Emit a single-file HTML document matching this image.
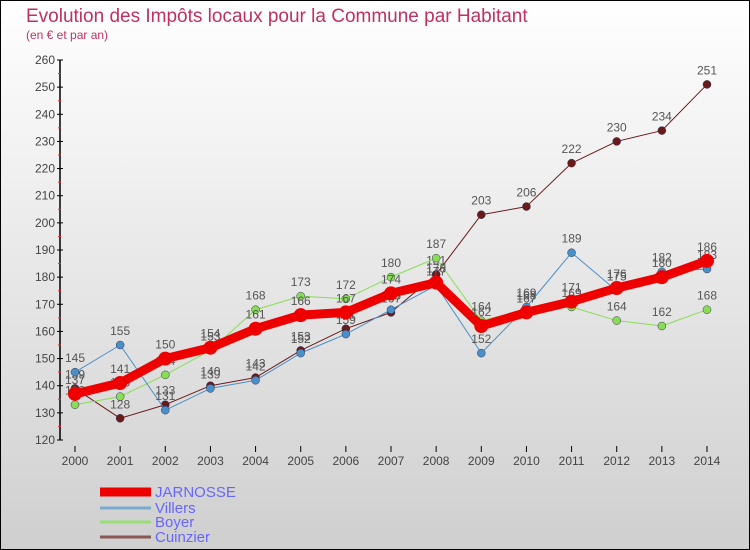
<!DOCTYPE html>
<html><head><meta charset="utf-8"><style>
body{margin:0;}
#wrap{width:750px;height:550px;position:relative;overflow:hidden;}
svg{display:block;font-family:"Liberation Sans",sans-serif;}
</style></head><body>
<div id="wrap">
<svg id="chart" width="750" height="550" viewBox="0 0 750 550">
<defs><linearGradient id="bg" x1="0" y1="0" x2="0" y2="1"><stop offset="0" stop-color="#ffffff"/><stop offset="1" stop-color="#cfcfcf"/></linearGradient></defs>
<rect x="0.5" y="0.5" width="749" height="549" fill="url(#bg)" stroke="#000"/>
<text x="26" y="22" font-size="19" fill="#c03060">Evolution des Impôts locaux pour la Commune par Habitant</text>
<text x="26" y="39" font-size="12" fill="#c03060">(en € et par an)</text>
<g id="axes"></g><g id="series"></g><g id="legend"></g>
</svg></div>
<script>
const years=[2000,2001,2002,2003,2004,2005,2006,2007,2008,2009,2010,2011,2012,2013,2014];
const yTicks=[120,130,140,150,160,170,180,190,200,210,220,230,240,250,260];
const jarnosse=[137,141,150,154,161,166,167,174,178,162,167,171,176,180,186];
const villers=[145,155,131,139,142,152,159,168,177,152,169,189,175,182,183];
const boyer=[133,136,144,153,168,173,172,180,187,164,168,169,164,162,168];
const cuinzier=[139,128,133,140,143,153,161,167,181,203,206,222,230,234,251];
const NS="http://www.w3.org/2000/svg";
function xS(i){return 75+i*(707-75)/(years.length-1);}
function yS(v){return 440-(v-120)*(380/140);}
function mk(tag,attrs,parent){const e=document.createElementNS(NS,tag);for(const k in attrs)e.setAttribute(k,attrs[k]);parent.appendChild(e);return e;}
const axes=document.getElementById('axes');
let al=mk('line',{x1:60,y1:60,x2:60,y2:440,stroke:'#000','stroke-width':1.5},axes);


yTicks.forEach((t,i)=>{
 const y=yS(t);
 let tk=mk('line',{x1:57,y1:y,x2:63,y2:y,stroke:'#000'},axes);
 
 
 let tx=mk('text',{x:55,y:y+4,'font-size':12,fill:'#444','text-anchor':'end'},axes);tx.textContent=t;
 
 
 if(i<yTicks.length-1){const m=mk('line',{x1:58,y1:y-13.57,x2:61,y2:y-13.57,stroke:'#e03030'},axes);
 
 }
});
years.forEach((yr,i)=>{
 const x=xS(i);
 let tk=mk('line',{x1:x,y1:446,x2:x,y2:452,stroke:'#000'},axes);
 
 
 let tx=mk('text',{x:x,y:465,'font-size':12,fill:'#444','text-anchor':'middle'},axes);tx.textContent=yr;
 
 
});
const seriesG=document.getElementById('series');
const defs=[
 {name:'cuinzier',data:cuinzier,color:'#6b1a1a',w:1,r:4},
 {name:'boyer',data:boyer,color:'#88dd55',w:1,r:4},
 {name:'villers',data:villers,color:'#4a90c8',w:1,r:4},
 {name:'jarnosse',data:jarnosse,color:'#ee0000',w:9,r:7}
];
defs.forEach(s=>{
 const g=mk('g',{},seriesG);
 
 
 const pts=s.data.map((v,i)=>xS(i)+','+yS(v)).join(' ');
 const pl=mk('polyline',{points:pts,fill:'none',stroke:s.color,'stroke-width':s.w,'stroke-linejoin':'round'},g);
 
 
 s.data.forEach((v,i)=>{
  const c=mk('circle',{cx:xS(i),cy:yS(v),r:s.r,fill:s.color,stroke:s.w>1?'none':'#335',"stroke-width":0.5},g);
  
  
  const t=mk('text',{x:xS(i),y:yS(v)-10,'font-size':12,fill:'#555','text-anchor':'middle'},g);t.textContent=v;
  
  
 });
});
const lg=document.getElementById('legend');
const leg=[['JARNOSSE','#ee0000',9,497],['Villers','#7aaad0',3,513],['Boyer','#99dd77',3,527],['Cuinzier','#8a5555',3,542]];
leg.forEach(l=>{
 const r=mk('line',{x1:100,y1:l[3]-5,x2:151,y2:l[3]-5,stroke:l[1],'stroke-width':l[2]},lg);
 
 
 const t=mk('text',{x:155,y:l[3],'font-size':15,fill:'#6666ff'},lg);t.textContent=l[0];
 
 
});
</script>
</body></html>
